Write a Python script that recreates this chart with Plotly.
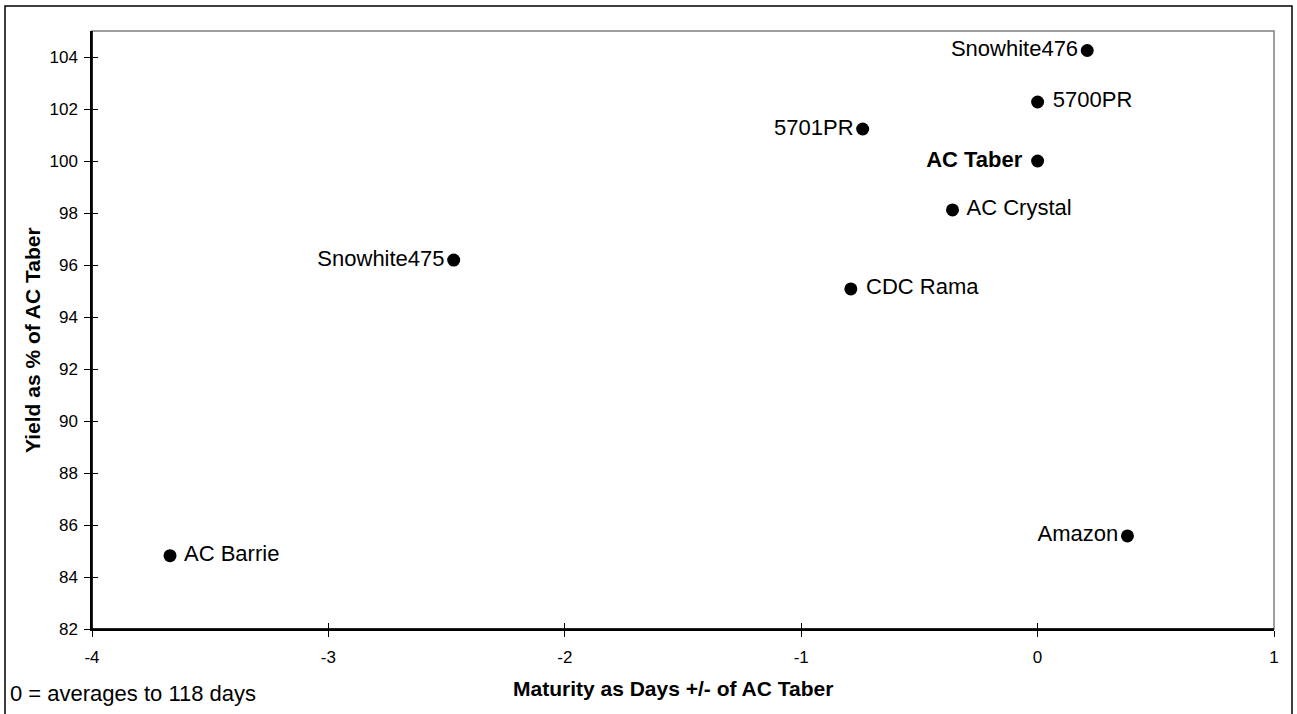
import plotly.graph_objects as go

varieties = ["Snowhite476", "5700PR", "5701PR", "AC Taber", "AC Crystal",
             "Snowhite475", "CDC Rama", "AC Barrie", "Amazon"]
maturity = [0.21, 0.0, -0.74, 0.0, -0.36, -2.47, -0.79, -3.67, 0.38]
yield_pct = [104.25, 102.27, 101.23, 100.0, 98.12, 96.19, 95.08, 84.82, 85.58]
label_side = ["middle left", "middle right", "middle left", "middle left", "middle right",
              "middle left", "middle right", "middle right", "middle left"]
x_ticks = [-4, -3, -2, -1, 0, 1]
x_ticktext = ["-4", "-3", "-2", "-1", "0", "1"]
y_ticks = list(range(82, 105, 2))

labels = ["<b>" + v + "</b> " if v == "AC Taber" else v for v in varieties]
labels = [(" " + l) if s == "middle right" else l for l, s in zip(labels, label_side)]

FONT = "Liberation Sans, Arial, sans-serif"

fig = go.Figure()
fig.add_trace(go.Scatter(
    x=maturity, y=yield_pct, mode="markers+text",
    text=labels, textposition=label_side,
    textfont=dict(family=FONT, size=22, color="black"),
    marker=dict(size=13, color="black"),
    showlegend=False, cliponaxis=False, hoverinfo="skip",
))
# invisible trace to drive overlay axes with inside ticks (crossing tick marks)
fig.add_trace(go.Scatter(x=[None], y=[None], xaxis="x2", yaxis="y2", showlegend=False,
                         hoverinfo="skip"))

fig.update_layout(
    width=1297, height=714,
    margin=dict(l=92, r=23, t=31, b=85),
    paper_bgcolor="white", plot_bgcolor="white",
    font=dict(family=FONT, size=17, color="black"),
    xaxis=dict(range=[-4, 1], tickvals=x_ticks, ticktext=x_ticktext, showgrid=False, zeroline=False,
               showline=True, linecolor="black", linewidth=1.5,
               ticks="outside", ticklen=6, tickcolor="black", ticklabelstandoff=6,
               tickfont=dict(size=17)),
    yaxis=dict(range=[82, 105], tickvals=y_ticks, showgrid=False, zeroline=False,
               showline=True, linecolor="black", linewidth=1.5,
               ticks="outside", ticklen=6, tickcolor="black", ticklabelstandoff=3,
               tickfont=dict(size=17)),
    xaxis2=dict(range=[-4, 1], tickvals=x_ticks, overlaying="x", showticklabels=False,
                ticks="inside", ticklen=6, tickcolor="black", showgrid=False, zeroline=False,
                showline=False, anchor="y"),
    yaxis2=dict(range=[82, 105], tickvals=y_ticks, overlaying="y", showticklabels=False,
                ticks="inside", ticklen=6, tickcolor="black", showgrid=False, zeroline=False,
                showline=False, anchor="x"),
    shapes=[
        dict(type="rect", xref="paper", yref="paper", x0=0, x1=1, y0=0, y1=1,
             line=dict(color="#808080", width=1.5), layer="below"),
        dict(type="line", xref="paper", yref="paper", x0=0, x1=0, y0=0, y1=1,
             line=dict(color="black", width=1.5)),
        dict(type="line", xref="paper", yref="paper", x0=0, x1=1, y0=0, y1=0,
             line=dict(color="black", width=1.5)),
        # outer frame
        dict(type="rect", xref="paper", yref="paper",
             x0=-87/1182, x1=1+18/1182, y0=-(85 + 10)/598, y1=1 + 25/598,
             line=dict(color="black", width=1.5), fillcolor="rgba(0,0,0,0)"),
    ],
    annotations=[
        dict(text="0 = averages to 118 days", xref="paper", yref="paper",
             x=-84/1182, y=-64/598, xanchor="left", yanchor="middle", showarrow=False,
             font=dict(size=22, family=FONT, color="black")),
        dict(text="<b>Maturity as Days +/- of AC Taber</b>", xref="paper", yref="paper",
             x=581/1182, y=-59/598, xanchor="center", yanchor="middle", showarrow=False,
             font=dict(size=21, family=FONT, color="black")),
        dict(text="<b>Yield as % of AC Taber</b>", xref="paper", yref="paper",
             x=-60/1182, y=289/598, xanchor="center", yanchor="middle", showarrow=False,
             textangle=-90, font=dict(size=21, family=FONT, color="black")),
    ],
)

fig.write_html("out.html", config={"displayModeBar": False},
               post_script="document.body.style.margin='0';")
